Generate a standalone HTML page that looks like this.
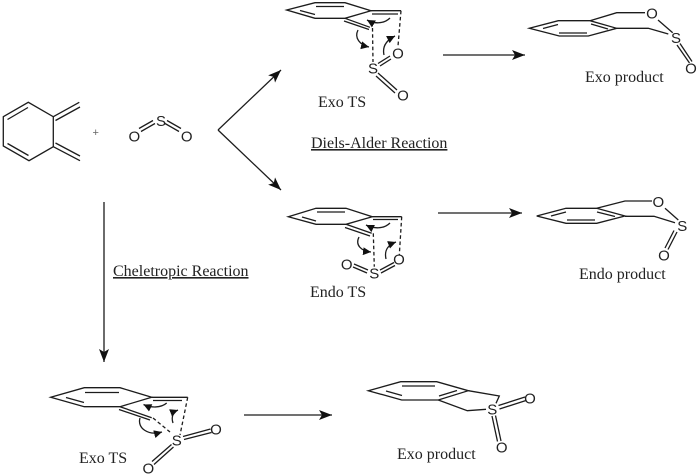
<!DOCTYPE html>
<html><head><meta charset="utf-8"><style>
html,body{margin:0;padding:0;background:#fff;width:700px;height:476px;overflow:hidden}
svg{display:block}
.b path,.b line,.b polyline{fill:none;stroke:#1c1c1c;stroke-width:1.3}
.d{stroke-dasharray:3.6 2.6}
.a{font:15px "Liberation Sans",sans-serif;fill:#222;text-anchor:middle}
.l{font:16px "Liberation Serif",serif;fill:#222}
</style></head><body>
<svg width="700" height="476" viewBox="0 0 700 476" xmlns="http://www.w3.org/2000/svg">
<defs>
<marker id="m" markerWidth="14" markerHeight="10" refX="13" refY="5" orient="auto" markerUnits="userSpaceOnUse"><path d="M0 0L13 5L0 10L3 5Z" fill="#111"/></marker>
<marker id="c" markerWidth="9" markerHeight="8" refX="8" refY="4" orient="auto" markerUnits="userSpaceOnUse"><path d="M0 0L8 4L0 8Z" fill="#111"/></marker>
</defs>

<g class="b">
<!-- reactant -->
<path d="M3.3 116.7L28.3 102.3L53.3 116.7V146.7L29 160.7L3.3 146Z"/>
<path d="M7.5 119.5L28 107.5M7.5 143.5L28.5 155.5"/>
<path d="M53.3 116.7L79.3 102.3M55.5 120.5L80 107M53.3 146.7L80 160.7M55.5 143L80 156"/>
<path d="M141 131.5L155 123.5M139 128.5L153 120.5M167 120.5L181 128.5M165 123.5L179 131.5"/>

<!-- Exo TS top -->
<path d="M286.7 10L315 2.7H345L371 10.7L345 18.3H315Z"/>
<path d="M300 10.5L315 14.5M316 6.5H344M345 18.3L370 27.3M344 21L369 29.5M371 10.7H401M372 14H398"/>
<path class="d" d="M401 10.7L398 46M372.5 28L373 62"/>
<path d="M378 63.5L390 56M380 66L391 59M378 73L397 90M376 76L395 93"/>
<path d="M390 18C384 24 374 24 367 20" marker-end="url(#c)"/>
<path d="M358 30C354 38 360 45 369 47" marker-end="url(#c)"/>
<path d="M384 55C382 46 387 40 395 36" marker-end="url(#c)"/>

<!-- Endo TS -->
<path d="M288.3 216.7L316 208.3H346L372.3 216.7L346 224.3H316Z"/>
<path d="M302 217L316 221M317 212H345M346 224.3L371.7 233.3M345 227.5L370 236M372.3 216.7H401.7M373 219.5H398"/>
<path class="d" d="M401.7 216.7L399.3 255M373.3 233.3L374.3 266.7"/>
<path d="M380 270L394 262.5M381 273L395 265.5M368 270L354 264M367 273L353 267"/>
<path d="M390 223C384 229 374 229 366 225" marker-end="url(#c)"/>
<path d="M359 237C355 245 361 251 371 252" marker-end="url(#c)"/>
<path d="M386 259C384 250 388 245 396 242" marker-end="url(#c)"/>

<!-- Exo TS bottom -->
<path d="M50.7 397.3L84.3 387.7H120L151.7 397.3L120 406.7H84.3Z"/>
<path d="M66 397.5L84 402.5M85 392.5H119M120 406.7L151.7 417.7M119 409.5L150 420M151.7 397.3H187.7M153 400.5H182"/>
<path class="d" d="M187.7 397.3L180 435M153 418L170 432"/>
<path d="M183 436.5L210.5 429M184 439.5L211.5 432.5M171.5 444.5L152 461.5M173.5 447L154 464.5"/>
<path d="M166.7 403C161 408 151 408 143.5 404.5" marker-end="url(#c)"/>
<path d="M140 418C137 428 148 436 162 432" marker-end="url(#c)"/>
<path d="M173 423C171 417 173 412 178 410" marker-end="url(#c)"/>

<!-- Exo product top -->
<path d="M529.3 28.3L558.3 20.7H590L616.7 28.3L588.3 36H559.3Z"/>
<path d="M543 28.5L558 24.5M559 33H587M591 24L608 29"/>
<path d="M590 20.7L616.7 12.7H645M658 20L672.7 32.7M616.7 28.3H648.3L668.3 34M677 45L689.5 63M680 43.5L692 61.5"/>

<!-- Endo product -->
<path d="M536.7 216L566 208.3H596.7L625 216L596.7 223.3H566Z"/>
<path d="M551 216L566 212M567 220H595M597 212L615 216.5"/>
<path d="M596.7 208.3L625 201H652M665 208.3L678.3 220M625 216.3H654L675 222.7M677 232L668 249.5M674 230.5L665 248"/>

<!-- Exo product bottom -->
<path d="M368.3 390.7L400.7 381.7H436.7L468.3 390.7L438.3 400H401.7Z"/>
<path d="M386 391L402 395.5M402 386H435M439 396L457 390.5"/>
<path d="M468.3 390.7L499.3 396L496 403.3M438.3 400L467.3 410.7L486 409.3M498.5 405.5L525 397M499.5 409L526 400.5M492 416L497.5 441.5M495.5 415.5L501 441"/>

<!-- reaction arrows -->
<path d="M443 55H525" marker-end="url(#m)"/>
<path d="M218 130L281 70" marker-end="url(#m)"/>
<path d="M218 130L281 190" marker-end="url(#m)"/>
<path d="M438 213H522" marker-end="url(#m)"/>
<path d="M104 202V362" marker-end="url(#m)"/>
<path d="M244 415H332" marker-end="url(#m)"/>
</g>

<text x="95.7" y="136" font-family="Liberation Sans, sans-serif" font-size="11" fill="#666" text-anchor="middle">+</text>
<g class="a">
<text x="161" y="126">S</text><text x="134.3" y="141.5">O</text><text x="186.7" y="141.5">O</text>
<text x="373" y="73.5">S</text><text x="398" y="58.5">O</text><text x="403" y="100.5">O</text>
<text x="374.3" y="278.5">S</text><text x="399" y="264.5">O</text><text x="346.7" y="269.5">O</text>
<text x="176.7" y="445.5">S</text><text x="216" y="434.5">O</text><text x="148.3" y="473.5">O</text>
<text x="652" y="18.5">O</text><text x="676" y="43">S</text><text x="691" y="73.5">O</text>
<text x="658.3" y="207">O</text><text x="682.3" y="231">S</text><text x="664" y="260.5">O</text>
<text x="492.3" y="414.5">S</text><text x="530" y="403.5">O</text><text x="501.7" y="452.5">O</text>
</g>
<g class="l">
<text x="318" y="107">Exo TS</text>
<text x="310" y="297">Endo TS</text>
<text x="79" y="463">Exo TS</text>
<text x="585" y="82">Exo product</text>
<text x="579" y="279">Endo product</text>
<text x="397" y="459">Exo product</text>
<text x="311" y="148" text-decoration="underline">Diels-Alder Reaction</text>
<text x="113" y="276" text-decoration="underline">Cheletropic Reaction</text>
</g>
</svg>
</body></html>
